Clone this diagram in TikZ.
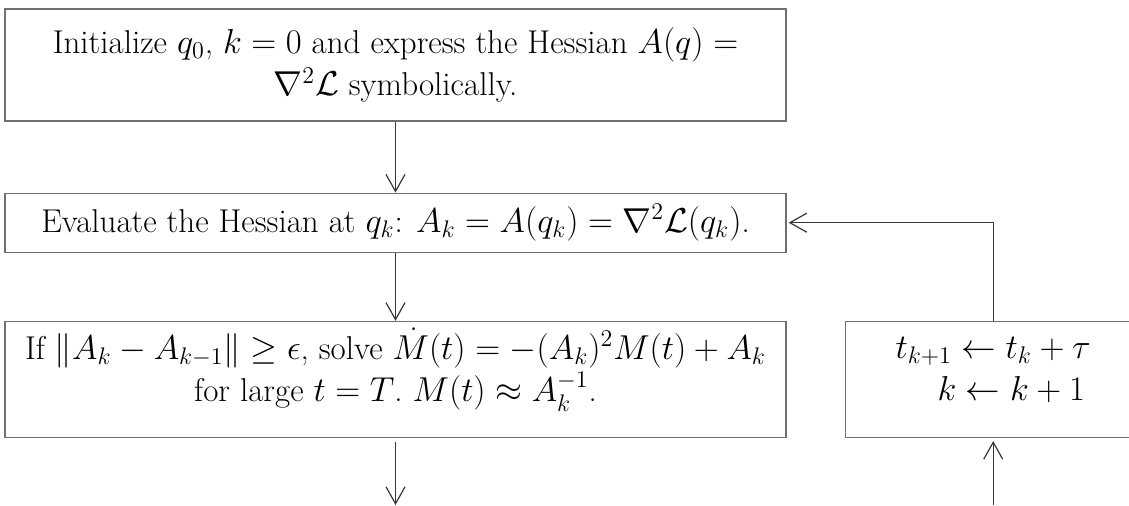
\documentclass[tikz,border=0pt]{standalone}
\usepackage{amsmath}
\usepackage{tikz}
\usetikzlibrary{arrows.meta,positioning}
\definecolor{FlowGray}{RGB}{112,112,112}
\definecolor{FlowDark}{RGB}{55,55,55}
\begin{document}
\begin{tikzpicture}[
  node distance=35pt and 29pt,
  box/.style={draw=FlowGray,line width=0.6pt,align=center,minimum width=390.5pt,
              font=\fontsize{16.5}{21}\selectfont,inner sep=3pt},
  arrow/.style={-{Straight Barb[length=8.5pt,width=9.5pt]},draw=FlowDark,line width=0.6pt}
]
\useasboundingbox (0,0) rectangle (564.5pt,-252.5pt);
\coordinate (bot) at (0,-252.5pt);

\node[box,minimum height=56pt] (init) at (197.75pt,-32.5pt)
  {Initialize $q_0$, $k=0$ and express the Hessian $A(q)=$\\ $\nabla^2\mathcal{L}$ symbolically.};
\node[box,minimum height=29.5pt,below=35.5pt of init] (eval)
  {Evaluate the Hessian at $q_k$: $A_k=A(q_k)=\nabla^2\mathcal{L}(q_k)$.};
% empty last line pushes the text up a little, as in the original
\node[box,minimum height=58pt,below=34pt of eval] (solve)
  {If $\|A_k-A_{k-1}\|\geq\epsilon$, solve $\dot{M}(t)=-(A_k)^2M(t)+A_k$\\ for large $t=T$.\ $M(t)\approx A_k^{-1}$.\\[-6pt]\mbox{}};
\node[box,minimum width=148pt,minimum height=58pt,right=of solve] (upd)
  {$t_{k+1}\leftarrow t_k+\tau$\\ \hspace*{18pt}$k\leftarrow k+1$\\[-10pt]\mbox{}};

\draw[arrow] (init)--(eval); \draw[arrow] (eval)--(solve);
\draw[arrow,shorten <=2pt] (solve.south)--(solve.south |- bot);
\draw[arrow,shorten >=1.5pt] (upd.south |- bot)--(upd.south);
\draw[arrow,shorten >=1pt] (upd.north) |- (eval.east);
\end{tikzpicture}
\end{document}
